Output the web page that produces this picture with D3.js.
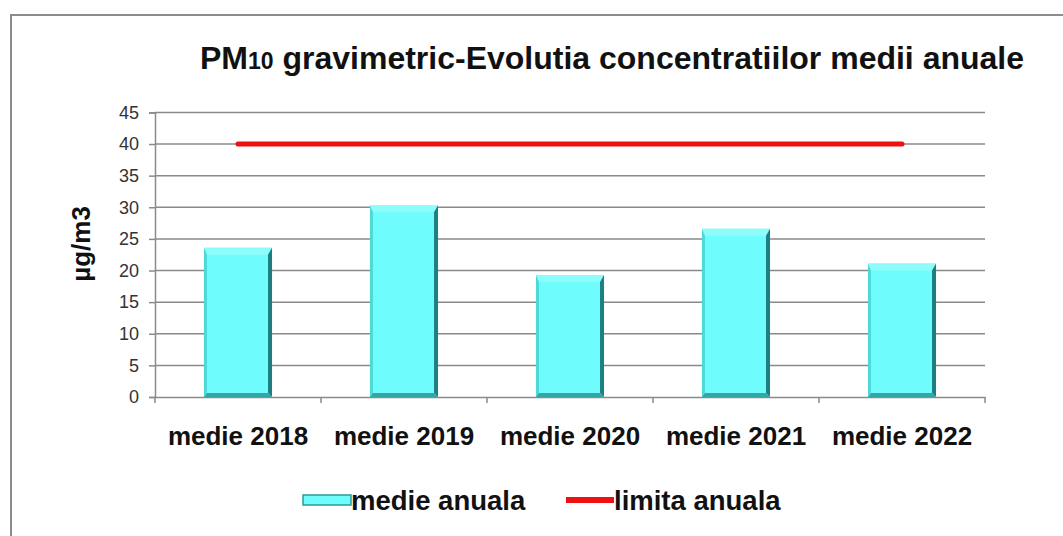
<!DOCTYPE html>
<html>
<head>
<meta charset="utf-8">
<script src="https://cdn.jsdelivr.net/npm/d3@7"></script>
<style>
  body { margin: 0; background: #fff; }
  svg { display: block; font-family: Arial, "Liberation Sans", sans-serif; }
</style>
</head>
<body>
<div id="chart"></div>
<script>
// Data
const categories = ["medie 2018", "medie 2019", "medie 2020", "medie 2021", "medie 2022"];
const medieAnuala = [23.6, 30.3, 19.3, 26.6, 21.1];
const limitaAnuala = [40, 40, 40, 40, 40];
const yTicks = [0, 5, 10, 15, 20, 25, 30, 35, 40, 45];
const legendLabels = ["medie anuala", "limita anuala"];

const W = 1063, H = 536;
const plot = { left: 155, right: 985, top: 112.4, bottom: 397 };

const svg = d3.select("#chart").append("svg")
    .attr("width", W)
    .attr("height", H);

svg.append("rect").attr("width", W).attr("height", H).attr("fill", "#fff");

// chart frame (only top/left edges fall inside the picture)
svg.append("rect")
    .attr("x", 11).attr("y", 15)
    .attr("width", W + 20).attr("height", H + 20)
    .attr("fill", "none")
    .attr("stroke", "#8c8c8c")
    .attr("stroke-width", 2);

const x = d3.scaleBand()
    .domain(categories)
    .range([plot.left, plot.right])
    .paddingInner(0.59)
    .paddingOuter(0.295);

const xCenter = d3.scalePoint()
    .domain(categories)
    .range([plot.left, plot.right])
    .padding(0.5);

const y = d3.scaleLinear()
    .domain([0, 45])
    .range([plot.bottom, plot.top]);

// gridlines
svg.append("g")
    .selectAll("line")
    .data(yTicks.filter(d => d > 0))
    .join("line")
    .attr("x1", plot.left).attr("x2", plot.right)
    .attr("y1", d => y(d)).attr("y2", d => y(d))
    .attr("stroke", "#8a8a8a")
    .attr("stroke-width", 1.5);

// y axis
const yAxis = svg.append("g")
    .attr("transform", `translate(${plot.left},0)`)
    .call(d3.axisLeft(y).tickValues(yTicks).tickSize(6).tickPadding(10));
yAxis.select(".domain").attr("stroke", "#8a8a8a").attr("stroke-width", 1.5);
yAxis.selectAll(".tick line").attr("stroke", "#8a8a8a").attr("stroke-width", 1.5);
yAxis.selectAll(".tick text")
    .attr("font-size", "18px")
    .attr("fill", "#333")
    .attr("font-family", "Arial, 'Liberation Sans', sans-serif");

// x axis
const xAxis = svg.append("g")
    .attr("transform", `translate(0,${plot.bottom})`)
    .call(d3.axisBottom(x).tickSize(0).tickPadding(0).tickFormat(""));
xAxis.select(".domain").attr("stroke", "#8a8a8a").attr("stroke-width", 1.5);

const boundaries = [plot.left].concat(categories.map(c => x(c) + x.bandwidth() + x.step() * x.paddingInner() / 2));
svg.append("g")
    .selectAll("line")
    .data(boundaries)
    .join("line")
    .attr("x1", d => d).attr("x2", d => d)
    .attr("y1", plot.bottom).attr("y2", plot.bottom + 6)
    .attr("stroke", "#8a8a8a")
    .attr("stroke-width", 1.5);

svg.append("g")
    .selectAll("text")
    .data(categories)
    .join("text")
    .attr("x", d => xCenter(d))
    .attr("y", 445)
    .attr("text-anchor", "middle")
    .attr("font-size", "26px")
    .attr("font-weight", "bold")
    .attr("fill", "#111")
    .text(d => d);

// bars with bevel
const bars = svg.append("g")
    .selectAll("g")
    .data(medieAnuala.map((v, i) => ({ cat: categories[i], v })))
    .join("g");

bars.append("rect")
    .attr("x", d => x(d.cat))
    .attr("y", d => y(d.v))
    .attr("width", x.bandwidth())
    .attr("height", d => y(0) - y(d.v))
    .attr("fill", "#6ffcfc");

// top bevel (lighter)
bars.append("path")
    .attr("d", d => {
        const x0 = x(d.cat), x1 = x0 + x.bandwidth(), t = y(d.v), b = 7;
        return `M${x0},${t} L${x1},${t} L${x1 - 4},${t + b} L${x0 + 3},${t + b} Z`;
    })
    .attr("fill", "#8ffcfc");

// left edge
bars.append("path")
    .attr("d", d => {
        const x0 = x(d.cat), t = y(d.v), bot = y(0);
        return `M${x0},${t} L${x0 + 3},${t + 7} L${x0 + 3},${bot - 4} L${x0},${bot} Z`;
    })
    .attr("fill", "#4fd8d8");

// right bevel (dark)
bars.append("path")
    .attr("d", d => {
        const x1 = x(d.cat) + x.bandwidth(), t = y(d.v), bot = y(0);
        return `M${x1},${t} L${x1 - 4},${t + 7} L${x1 - 4},${bot - 4} L${x1},${bot} Z`;
    })
    .attr("fill", "#1f7f80");

// bottom bevel (dark)
bars.append("path")
    .attr("d", d => {
        const x0 = x(d.cat), x1 = x0 + x.bandwidth(), bot = y(0);
        return `M${x0},${bot} L${x0 + 3},${bot - 4} L${x1 - 4},${bot - 4} L${x1},${bot} Z`;
    })
    .attr("fill", "#33a6a6");

// limit line
const line = d3.line()
    .x((d, i) => xCenter(categories[i]))
    .y(d => y(d));

svg.append("path")
    .datum(limitaAnuala)
    .attr("d", line)
    .attr("fill", "none")
    .attr("stroke", "#ee1111")
    .attr("stroke-width", 5)
    .attr("stroke-linecap", "round");

// title
const title = svg.append("text")
    .attr("x", 612)
    .attr("y", 69)
    .attr("text-anchor", "middle")
    .attr("font-size", "32px")
    .attr("font-weight", "bold")
    .attr("fill", "#111");
title.append("tspan").text("PM");
title.append("tspan").attr("font-size", "23px").text("10");
title.append("tspan").text(" gravimetric-Evolutia concentratiilor medii anuale");

// y label
svg.append("text")
    .attr("transform", "translate(90,244) rotate(-90)")
    .attr("text-anchor", "middle")
    .attr("font-size", "26px")
    .attr("font-weight", "bold")
    .attr("fill", "#111")
    .text("µg/m3");

// legend
const legend = svg.append("g");
legend.append("rect")
    .attr("x", 303).attr("y", 495)
    .attr("width", 48).attr("height", 10)
    .attr("fill", "#6ffcfc")
    .attr("stroke", "#2a9a9a")
    .attr("stroke-width", 1.5);
legend.append("text")
    .attr("x", 351).attr("y", 510)
    .attr("font-size", "27.5px").attr("font-weight", "bold").attr("fill", "#111")
    .text(legendLabels[0]);
legend.append("line")
    .attr("x1", 566).attr("x2", 614)
    .attr("y1", 500).attr("y2", 500)
    .attr("stroke", "#ee1111").attr("stroke-width", 6);
legend.append("text")
    .attr("x", 614).attr("y", 510)
    .attr("font-size", "27.5px").attr("font-weight", "bold").attr("fill", "#111")
    .text(legendLabels[1]);
</script>
</body>
</html>
